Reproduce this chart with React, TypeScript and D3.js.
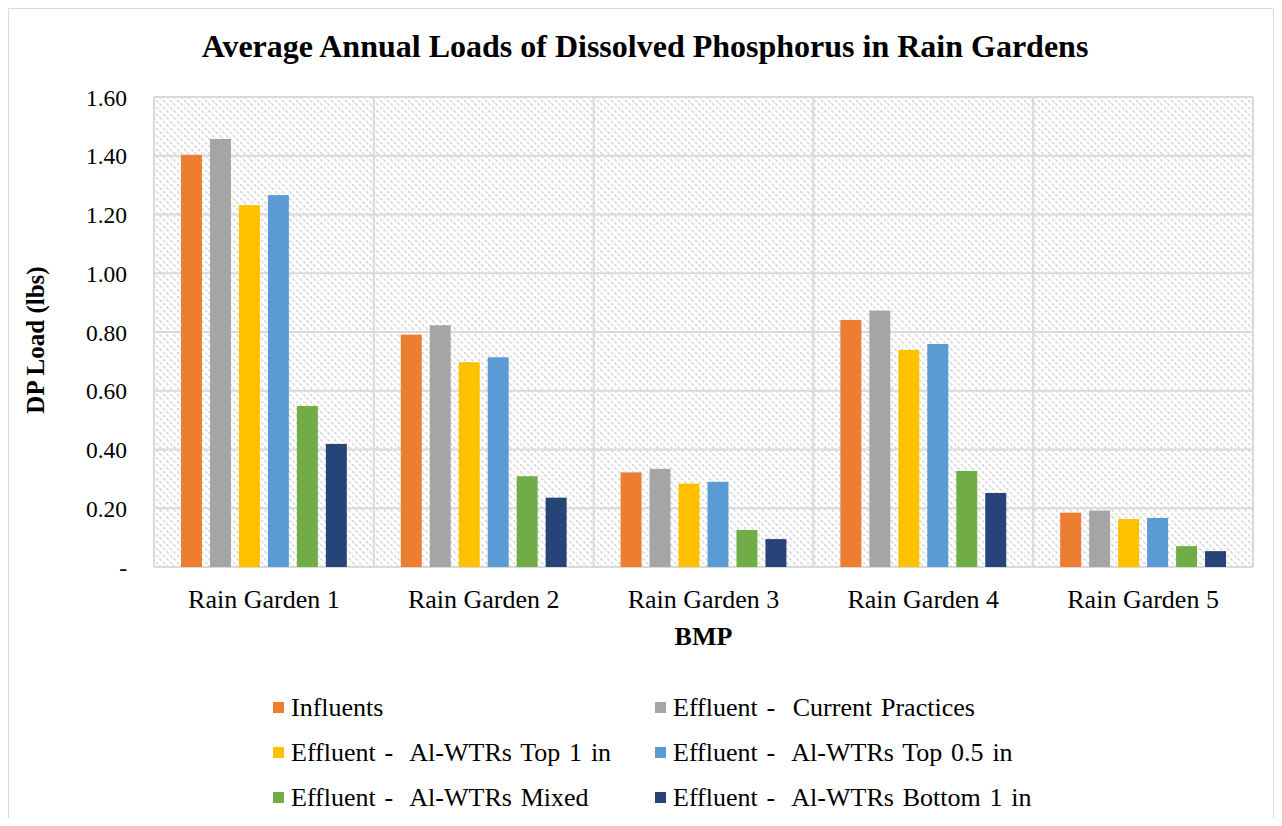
import React from "react";
import * as d3 from "d3";

const categories = ["Rain Garden 1", "Rain Garden 2", "Rain Garden 3", "Rain Garden 4", "Rain Garden 5"];
const seriesNames = [
  "Influents",
  "Effluent -  Current Practices",
  "Effluent -  Al-WTRs Top 1 in",
  "Effluent -  Al-WTRs Top 0.5 in",
  "Effluent -  Al-WTRs Mixed",
  "Effluent -  Al-WTRs Bottom 1 in",
];
const seriesColors = ["#ED7D31", "#A5A5A5", "#FFC000", "#5B9BD5", "#70AD47", "#264478"];
const influents = [1.403, 0.791, 0.322, 0.841, 0.185];
const currentPractices = [1.457, 0.823, 0.334, 0.873, 0.192];
const top1in = [1.232, 0.697, 0.284, 0.739, 0.163];
const top05in = [1.266, 0.714, 0.29, 0.759, 0.167];
const mixed = [0.548, 0.309, 0.126, 0.327, 0.071];
const bottom1in = [0.419, 0.236, 0.095, 0.252, 0.054];
const seriesValues = [influents, currentPractices, top1in, top05in, mixed, bottom1in];
const yTicks = [0, 0.2, 0.4, 0.6, 0.8, 1.0, 1.2, 1.4, 1.6];

const W = 1274;
const H = 810;
const FONT = "Liberation Serif";

export default function App() {
  const left = 146, right = 1245, top = 89, bottom = 559;
  const x0 = d3.scaleBand<string>().domain(categories).range([left, right]).padding(0);
  const x1 = d3
    .scaleBand<number>()
    .domain(d3.range(seriesNames.length))
    .range([0, x0.bandwidth()])
    .paddingInner(8 / 29)
    .paddingOuter(0.931);
  const y = d3.scaleLinear().domain([0, 1.6]).range([bottom, top]);
  const grid = "#d9d9d9";

  const legendRows = [708, 753, 798];
  const legendCols = [265, 647];

  return (
    <svg width={W} height={H} fontFamily={FONT} style={{ display: "block" }}>
      <defs>
        <pattern id="hatch" patternUnits="userSpaceOnUse" width="7" height="7">
          <rect width="7" height="7" fill="#ffffff" />
          <path d="M-2,-2 L9,9 M-2,5 L2,9 M5,-2 L9,2" stroke="#d3d3d3" strokeWidth="1.4" strokeDasharray="3 1.5" />
        </pattern>
      </defs>
      <rect width={W} height={H} fill="#fff" />
      <path d={`M0.5,${H} L0.5,0.5 L1265.5,0.5 L1265.5,${H}`} fill="none" stroke="#d9d9d9" strokeWidth={1} />
      <text x={637} y={49} textAnchor="middle" fontSize={32} fontWeight="bold" fill="#000" fontFamily={FONT}>
        Average Annual Loads of Dissolved Phosphorus in Rain Gardens
      </text>
      <rect x={left} y={top} width={right - left} height={bottom - top} fill="url(#hatch)" />
      {yTicks.map((t) => (
        <line key={"g" + t} x1={left} x2={right} y1={y(t)} y2={y(t)} stroke={grid} strokeWidth={2} />
      ))}
      {categories.map((c) => (
        <line key={"v" + c} x1={x0(c)!} x2={x0(c)!} y1={top} y2={bottom} stroke={grid} strokeWidth={2} />
      ))}
      <line x1={right} x2={right} y1={top} y2={bottom} stroke={grid} strokeWidth={2} />
      {categories.map((c, ci) =>
        seriesValues.map((vals, si) => (
          <rect
            key={c + si}
            x={x0(c)! + x1(si)!}
            y={y(vals[ci])}
            width={x1.bandwidth()}
            height={bottom - y(vals[ci])}
            fill={seriesColors[si]}
          />
        ))
      )}
      {yTicks.map((t) => (
        <text key={"t" + t} x={119} y={y(t) + 8.5} textAnchor="end" fontSize={23.5} fill="#000" fontFamily={FONT}>
          {t === 0 ? "-" : t.toFixed(2)}
        </text>
      ))}
      {categories.map((c) => (
        <text key={"l" + c} x={x0(c)! + x0.bandwidth() / 2} y={600} textAnchor="middle" fontSize={26} fill="#000" fontFamily={FONT}>
          {c}
        </text>
      ))}
      <text x={(left + right) / 2} y={637} textAnchor="middle" fontSize={26} fontWeight="bold" fill="#000" fontFamily={FONT}>
        BMP
      </text>
      <text
        transform={`translate(36, 332) rotate(-90)`}
        textAnchor="middle"
        fontSize={25}
        fontWeight="bold"
        fill="#000"
        fontFamily={FONT}
      >
        DP Load (lbs)
      </text>
      {seriesNames.map((n, i) => {
        const cx = legendCols[i % 2];
        const cy = legendRows[Math.floor(i / 2)];
        return (
          <g key={n}>
            <rect x={cx} y={cy - 14} width={11} height={11} fill={seriesColors[i]} />
            <text
              x={cx + 18}
              y={cy}
              fontSize={26}
              fill="#000"
              fontFamily={FONT}
              wordSpacing={2.3}
              style={{ whiteSpace: "pre" }}
            >
              {n}
            </text>
          </g>
        );
      })}
    </svg>
  );
}
